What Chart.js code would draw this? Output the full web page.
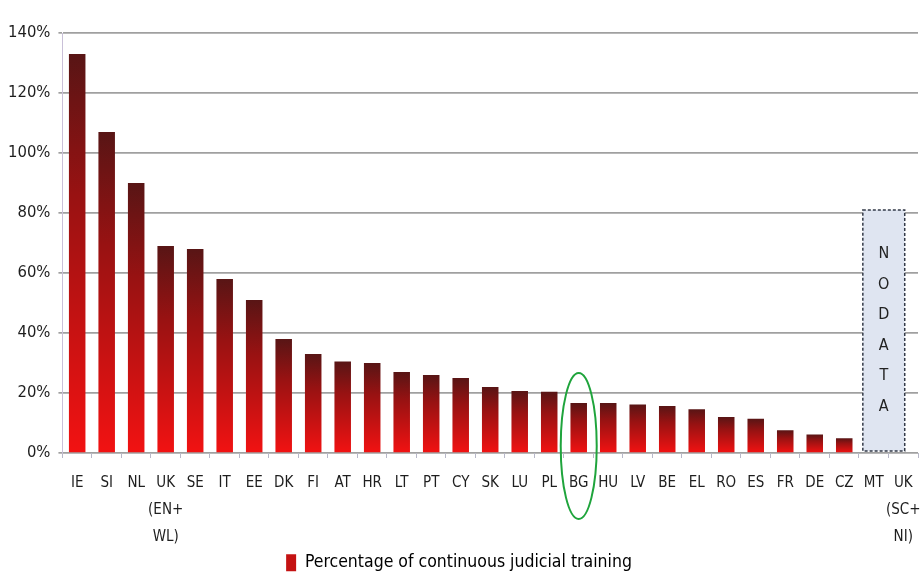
<!DOCTYPE html>
<html>
<head>
<meta charset="utf-8">
<script src="https://cdn.jsdelivr.net/npm/chart.js@4.4.1/dist/chart.umd.min.js"></script>
<style>
  html, body { margin: 0; padding: 0; background: #fff; }
  #wrap { width: 921px; height: 578px; position: relative; }
</style>
</head>
<body>
<div id="wrap"><canvas id="trainingChart"></canvas></div>
<script>
// Data
const countries = [
  "IE", "SI", "NL", ["UK", "(EN+", "WL)"], "SE", "IT", "EE", "DK", "FI", "AT",
  "HR", "LT", "PT", "CY", "SK", "LU", "PL", "BG", "HU", "LV",
  "BE", "EL", "RO", "ES", "FR", "DE", "CZ", "MT", ["UK", "(SC+", "NI)"],
];
const trainingShare = [
  133, 107, 90, 69, 68, 58, 51, 38, 33, 30.5,
  30, 27, 26, 25, 22, 20.7, 20.4, 16.7, 16.7, 16.2,
  15.7, 14.6, 12, 11.4, 7.6, 6.2, 4.9, null, null,
];
const yTicks = [0, 20, 40, 60, 80, 100, 120, 140];
const noDataIdx = [27, 28];
const noDataLevel = 81;
const highlightIdx = 17; // BG

const FONT = "'DejaVu Sans Condensed', 'DejaVu Sans', sans-serif";

function barGradient(ctx) {
  const chart = ctx.chart;
  const area = chart.chartArea;
  if (!area || ctx.type !== "data") return "#c01010";
  const y = chart.scales.y;
  const v = ctx.raw || 0;
  const top = y.getPixelForValue(v);
  const bottom = y.getPixelForValue(0);
  const g = chart.ctx.createLinearGradient(0, top, 0, bottom);
  g.addColorStop(0, "#581515");
  g.addColorStop(0.35, "#981212");
  g.addColorStop(1, "#f21212");
  return g;
}

// dashed "NO DATA" box and green ellipse round BG
const overlays = {
  id: "overlays",
  beforeDatasetsDraw(chart) {
    const { ctx, scales } = chart;
    const step = scales.x.getPixelForValue(1) - scales.x.getPixelForValue(0);
    const left = scales.x.getPixelForValue(noDataIdx[0]) - step * 0.37;
    const right = scales.x.getPixelForValue(noDataIdx[1]) + step * 0.05;
    const top = scales.y.getPixelForValue(noDataLevel);
    const bottom = scales.y.getPixelForValue(0) - 2;
    ctx.save();
    ctx.fillStyle = "#dfe5f1";
    ctx.fillRect(left, top, right - left, bottom - top);
    ctx.setLineDash([3, 2]);
    ctx.lineWidth = 1.5;
    ctx.strokeStyle = "#333a48";
    ctx.strokeRect(left, top, right - left, bottom - top);
    ctx.setLineDash([]);
    ctx.fillStyle = "#222";
    ctx.font = "16px " + FONT;
    ctx.textAlign = "center";
    ctx.textBaseline = "middle";
    const letters = "NODATA".split("");
    const mid = (top + bottom) / 2;
    const gap = 30.5;
    letters.forEach((ch, i) => {
      ctx.fillText(ch, (left + right) / 2, mid + (i - 2.5) * gap);
    });
    ctx.restore();
  },
  afterDraw(chart) {
    const { ctx, scales } = chart;
    const cx = scales.x.getPixelForValue(highlightIdx);
    const base = scales.y.getPixelForValue(0);
    ctx.save();
    ctx.strokeStyle = "#1fa43c";
    ctx.lineWidth = 2;
    ctx.beginPath();
    ctx.ellipse(cx, base - 7, 18, 73, 0, 0, Math.PI * 2);
    ctx.stroke();
    ctx.restore();
  },
};

document.addEventListener("DOMContentLoaded", function () {
  const canvas = document.getElementById("trainingChart");
  new Chart(canvas, {
    type: "bar",
    data: {
      labels: countries,
      datasets: [
        {
          label: "Percentage of continuous judicial training",
          data: trainingShare,
          backgroundColor: barGradient,
          borderWidth: 0,
          barPercentage: 0.56,
          categoryPercentage: 1,
        },
      ],
    },
    options: {
      responsive: true,
      maintainAspectRatio: false,
      animation: false,
      layout: { padding: { top: 33, right: 3, left: 0, bottom: 0 } },
      scales: {
        y: {
          min: 0,
          max: 140,
          afterBuildTicks: (axis) => {
            axis.ticks = yTicks.map((v) => ({ value: v }));
          },
          grid: {
            color: "#a0a0a0",
            lineWidth: 1.7,
            drawTicks: true,
            tickLength: 4,
          },
          border: { display: true, color: "#c9c0d8", width: 1 },
          ticks: {
            color: "#1e1e1e",
            padding: 8,
            font: { family: FONT, size: 16.5 },
            callback: (v) => v + "%",
          },
        },
        x: {
          afterFit: (s) => {
            s.paddingLeft = 0;
            s.paddingRight = 0;
            s.height -= 13;
          },
          grid: {
            display: true,
            drawOnChartArea: false,
            drawTicks: true,
            tickLength: 5,
            offset: true,
            color: "#b8b8c8",
          },
          border: { display: false },
          ticks: {
            color: "#1e1e1e",
            autoSkip: false,
            maxRotation: 0,
            padding: 12,
            font: { family: FONT, size: 15, lineHeight: 1.8 },
          },
        },
      },
      plugins: {
        legend: {
          position: "bottom",
          maxHeight: 28,
          labels: {
            color: "#222",
            boxWidth: 10,
            boxHeight: 17,
            padding: 4,
            font: { family: FONT, size: 17.5 },
            generateLabels: (chart) => [
              {
                text: chart.data.datasets[0].label,
                fillStyle: "#c41212",
                strokeStyle: "#c41212",
                lineWidth: 0,
                datasetIndex: 0,
              },
            ],
          },
        },
        tooltip: { enabled: false },
      },
    },
    plugins: [overlays],
  });
});
</script>
</body>
</html>
